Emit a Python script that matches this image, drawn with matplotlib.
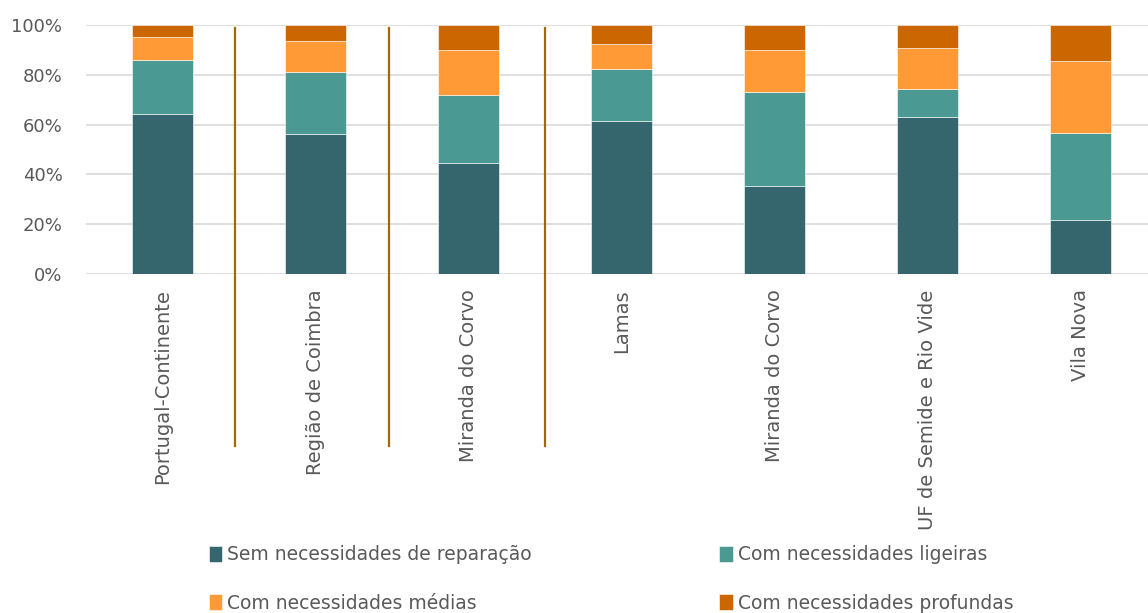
import numpy as np
import matplotlib
matplotlib.use("Agg")
import matplotlib.pyplot as plt

categories = ["Portugal-Continente", "Região de Coimbra", "Miranda do Corvo", "Lamas",
              "Miranda do Corvo", "UF de Semide e Rio Vide", "Vila Nova"]
series_names = ["Sem necessidades de reparação", "Com necessidades ligeiras",
                "Com necessidades médias", "Com necessidades profundas"]
sem = [64.2, 56.4, 44.8, 61.3, 35.4, 63.1, 21.7]
ligeiras = [21.7, 24.9, 27.3, 21.1, 37.8, 11.1, 35.1]
medias = [9.4, 12.4, 18.0, 10.2, 17.0, 16.7, 28.8]
profundas = [4.7, 6.3, 9.9, 7.4, 9.8, 9.1, 14.4]
colors = ["#35666D", "#4A9A93", "#FF9A36", "#CC6600"]
separators = [0.47, 1.48, 2.5]

fig = plt.figure(figsize=(11.48, 6.13), dpi=100)
ax = fig.add_axes([0.075, 0.553, 0.925, 0.406])

x = np.arange(len(categories))
bottom = np.zeros(len(categories))
handles = []
for vals, name, c in zip([sem, ligeiras, medias, profundas], series_names, colors):
    b = ax.bar(x, vals, 0.4, bottom=bottom, color=c, edgecolor="white", linewidth=0.4,
               label=name, zorder=3)
    handles.append(b)
    bottom += np.array(vals)

ax.set_ylim(0, 100)
ax.set_xlim(-0.5, 6.44)
ax.set_yticks(np.arange(0, 101, 20))
ax.set_yticklabels([f"{v}%" for v in range(0, 101, 20)])
ax.grid(axis="y", color="#D9D9D9", linewidth=1.2, zorder=0)
for s in ax.spines.values():
    s.set_visible(False)
ax.tick_params(length=0, colors="#595959", labelsize=13)
ax.tick_params(axis="y", pad=17)
ax.set_xticks(x)
ax.set_xticklabels(categories, rotation=90, fontsize=14, color="#595959")
ax.tick_params(axis="x", pad=11)

# separators between the first groups
for sx in separators:
    ax.plot([sx, sx], [99, -69], color="#A06A00", linewidth=1.6,
            clip_on=False, zorder=4)

# row-wise order for a 2-column legend
order = [0, 2, 1, 3]
fig.legend(handles=[handles[i] for i in order], loc="upper left",
           bbox_to_anchor=(0.167, 0.138), ncol=2,
           frameon=False, fontsize=13.5, labelcolor="#595959", handlelength=0.7,
           handleheight=0.9, handletextpad=0.3, columnspacing=10.0, labelspacing=1.57)

fig.savefig("out.png", dpi=100)
